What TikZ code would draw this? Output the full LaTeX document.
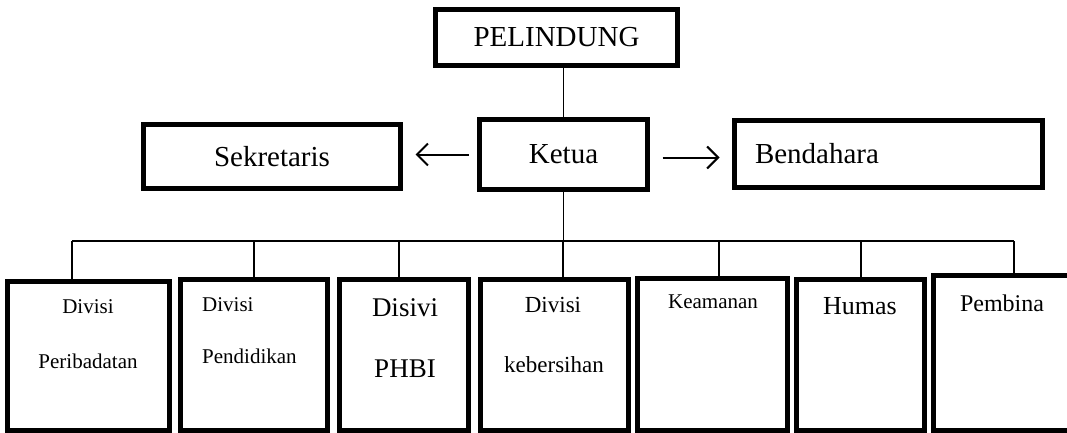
\documentclass[tikz,border=0pt]{standalone}
\usepackage{fontspec}
\setmainfont{Liberation Serif}
\usetikzlibrary{arrows.meta}

\tikzset{
  box/.style={draw, line width=5pt, inner sep=0pt},
  txt/.style={inner sep=0pt, font=\fontsize{#1}{#1}\selectfont},
  conn/.style={line width=1.5pt},
  arr/.style={line width=2pt, -{Straight Barb[length=11pt,width=22pt]}}
}

\begin{document}
\begin{tikzpicture}[x=1pt,y=-1pt]
\useasboundingbox (0,0) rectangle (1067,433);
% top boxes
\node[box, txt=29, minimum width=242, minimum height=56] (pelindung) at (556.5,37.5) {PELINDUNG};
\node[box, txt=29, minimum width=168, minimum height=70] (ketua) at (563.5,154.5) {Ketua};
\node[box, txt=29, minimum width=257, minimum height=64] (sekretaris) at (272,156.5) {Sekretaris};
\node[box, txt=29, inner xsep=20.5pt, text width=267pt, align=left, minimum height=67] (bendahara) at (888.5,154) {Bendahara};
% bottom boxes
\node[box, minimum width=162, minimum height=149] (d1) at (88.5,356) {};
\node[box, minimum width=147, minimum height=151] (d2) at (254,355) {};
\node[box, minimum width=129, minimum height=151] (d3) at (404,355) {};
\node[box, minimum width=148, minimum height=151] (d4) at (554.5,355) {};
\node[box, minimum width=150, minimum height=152] (d5) at (712.5,354.5) {};
\node[box, minimum width=128, minimum height=151] (d6) at (860.5,355) {};
\node[box, minimum width=139, minimum height=155] (d7) at (1003,353) {};
% labels bottom boxes
\node[txt=21] (d1a) at (88,307) {Divisi};
\node[txt=21] (d1b) at (88,361) {Peribadatan};
\node[txt=21, anchor=west] (d2a) at (202,305) {Divisi};
\node[txt=21, anchor=west] (d2b) at (202,356) {Pendidikan};
\node[txt=27] (d3a) at (405,308) {Disivi};
\node[txt=27] (d3b) at (405,369) {PHBI};
\node[txt=23] (d4a) at (553,305) {Divisi};
\node[txt=23] (d4b) at (554,365) {kebersihan};
\node[txt=21] (d5a) at (713,302) {Keamanan};
\node[txt=26] (d6a) at (860,306) {Humas};
\node[txt=24] (d7a) at (1002,303) {Pembina};
% bus line
\coordinate (bus) at (563.5,241);
\coordinate (b1) at (72,241);
\coordinate (b2) at (254,241);
\coordinate (b3) at (399,241);
\coordinate (b4) at (563,241);
\coordinate (b5) at (719,241);
\coordinate (b6) at (861,241);
\coordinate (b7) at (1014,241);
% draws connectors
\draw[conn] (ketua.north) -- (ketua.north |- pelindung.south);
\draw[arr, shorten <=8.5pt, shorten >=12.5pt] (ketua.west) -- (ketua.west -| sekretaris.east);
\draw[arr, shorten <=12.5pt, shorten >=12.5pt] ([yshift=-3pt]ketua.east) -- ([yshift=-3pt]ketua.east -| bendahara.west);
\draw[conn] (ketua.south) -- (bus);
\draw[conn] (b1) -- (b7);
\draw[conn] (b1) -- (b1 |- d1.north);
\draw[conn] (b2) -- (b2 |- d2.north);
\draw[conn] (b3) -- (b3 |- d3.north);
\draw[conn] (b4) -- (b4 |- d4.north);
\draw[conn] (b5) -- (b5 |- d5.north);
\draw[conn] (b6) -- (b6 |- d6.north);
\draw[conn] (b7) -- (b7 |- d7.north);
\end{tikzpicture}
\end{document}
